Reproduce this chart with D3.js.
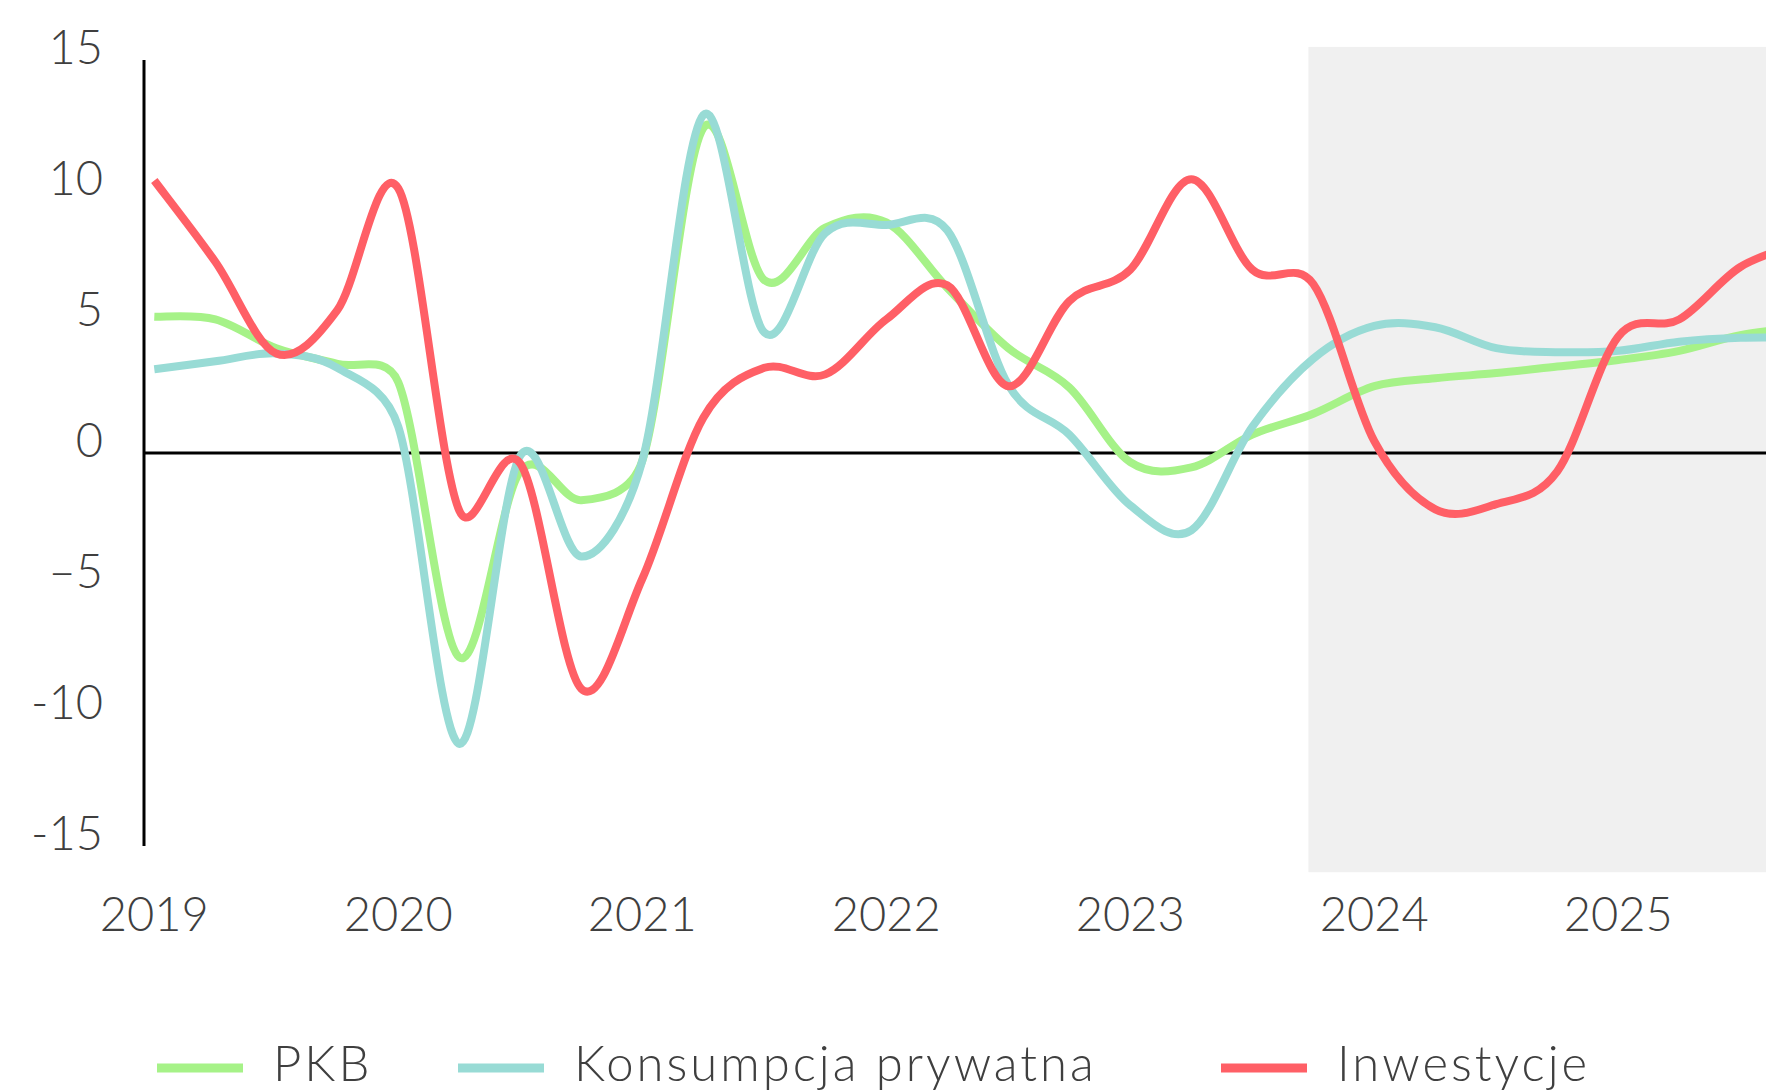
<!DOCTYPE html>
<html>
<head>
<meta charset="utf-8">
<script src="https://cdn.jsdelivr.net/npm/d3@7"></script>
<style>
    body { margin: 0; background: #fff; }
    svg { display: block; }
    text { font-family: 'Lato', 'Open Sans', sans-serif; font-weight: 300; fill: #3f3f3f; }
</style>
</head>
<body>
<div id="chart"></div>
<script>
// kwartaly 2019Q1 - 2025Q4
const years = ['2019', '2020', '2021', '2022', '2023', '2024', '2025'];
const yTicks = [15, 10, 5, 0, -5, -10, -15];
const yTickLabels = ['15', '10', '5', '0', '\u20135', '-10', '-15'];

const pkb = [5.2, 5.1, 4.0, 3.4, 2.7, -7.8, -0.7, -1.8, -0.3, 12.4, 6.6, 8.6, 8.8, 6.3,
    4.0, 2.5, -0.35, -0.55, 0.7, 1.5, 2.55, 2.85, 3.05, 3.3, 3.55, 3.9, 4.5, 4.8];
const konsumpcja = [3.2, 3.5, 3.8, 3.25, 1.0, -11.1, -0.1, -3.95, -0.3, 12.9, 4.6, 8.4, 8.7, 8.5,
    2.6, 0.7, -2.0, -2.95, 1.0, 3.6, 4.85, 4.8, 4.0, 3.85, 3.9, 4.25, 4.4, 4.4];
const inwestycje = [10.4, 7.3, 3.8, 5.45, 10.1, -2.2, -0.4, -9.0, -4.8, 1.35, 3.25, 3.0, 5.1, 6.4,
    2.55, 5.8, 7.0, 10.45, 7.0, 6.45, 0.45, -2.15, -1.95, -0.7, 4.45, 5.1, 7.1, 8.0];

// prognoza od konca 2023 (indeks kwartalu)
const forecastStart = 18.92;

const seriesNames = ['PKB', 'Konsumpcja prywatna', 'Inwestycje'];
const seriesColors = ['#a6f288', '#98dbd5', '#ff5f66'];

window.addEventListener('load', () => buildChart());

// wygladzanie jak w Excelu: bezier 1/6, ramiona przyciete do polowy odcinka
function smoothPath(points) {
    const dist = (a, b) => Math.hypot(b[0] - a[0], b[1] - a[1]);
    const n = points.length;
    const path = d3.path();
    path.moveTo(points[0][0], points[0][1]);
    for (let i = 0; i < n - 1; i++) {
        const p0 = points[Math.max(i - 1, 0)];
        const p1 = points[i];
        const p2 = points[i + 1];
        const p3 = points[Math.min(i + 2, n - 1)];
        const d12 = dist(p1, p2);
        const d02 = dist(p0, p2);
        const d13 = dist(p1, p3);
        let f1 = 1 / 6;
        let f2 = 1 / 6;
        if (d02 / 6 >= d12 / 2 && d02 > 0) f1 = d12 / (2 * d02);
        if (d13 / 6 >= d12 / 2 && d13 > 0) f2 = d12 / (2 * d13);
        path.bezierCurveTo(
            p1[0] + f1 * (p2[0] - p0[0]), p1[1] + f1 * (p2[1] - p0[1]),
            p2[0] - f2 * (p3[0] - p1[0]), p2[1] - f2 * (p3[1] - p1[1]),
            p2[0], p2[1]
        );
    }
    return path.toString();
}

function buildChart() {
    const svgWidth = 1766;
    const svgHeight = 1090;
    const axisX = 144;

    const svg = d3.select('#chart')
    .append('svg')
    .attr('width', svgWidth)
    .attr('height', svgHeight);

    const x = d3.scaleLinear()
    .domain([0, pkb.length - 1])
    .range([154.3, 154.3 + 61 * (pkb.length - 1)]);

    const y = d3.scaleLinear()
    .domain([-15, 15])
    .range([846, 60]);

    // szare tlo prognozy
    svg.append('rect')
    .attr('x', x(forecastStart))
    .attr('y', y(15.5))
    .attr('width', svgWidth - x(forecastStart))
    .attr('height', y(-16) - y(15.5))
    .attr('fill', '#f0f0f0');

    // os Y
    svg.append('line')
    .attr('x1', axisX).attr('x2', axisX)
    .attr('y1', y(15)).attr('y2', y(-15))
    .attr('stroke', '#000')
    .attr('stroke-width', 3);

    svg.append('line')
    .attr('x1', axisX).attr('x2', svgWidth)
    .attr('y1', y(0)).attr('y2', y(0))
    .attr('stroke', '#000')
    .attr('stroke-width', 3);

    svg.selectAll('.y-label')
    .data(yTicks)
    .enter()
    .append('text')
    .attr('class', 'y-label')
    .attr('x', 103)
    .attr('y', d => y(d) + 4)
    .attr('text-anchor', 'end')
    .style('font-size', '47px')
    .text((d, i) => yTickLabels[i]);

    svg.selectAll('.x-label')
    .data(years)
    .enter()
    .append('text')
    .attr('class', 'x-label')
    .attr('x', (d, i) => x(i * 4))
    .attr('y', 931)
    .attr('text-anchor', 'middle')
    .style('font-size', '47px')
    .text(d => d);

    [pkb, konsumpcja, inwestycje].forEach((series, i) => {
        const points = series.map((v, j) => [x(j), y(v)]);
        svg.append('path')
        .attr('d', smoothPath(points))
        .attr('fill', 'none')
        .attr('stroke', seriesColors[i])
        .attr('stroke-width', 8)
        .attr('stroke-linejoin', 'round');
    });

    // legenda
    const legendX = [157, 458, 1221];
    const legend = svg.selectAll('.legend')
    .data(seriesNames)
    .enter()
    .append('g')
    .attr('class', 'legend')
    .attr('transform', (d, i) => `translate(${legendX[i]}, 1068)`);

    legend.append('rect')
    .attr('x', 0)
    .attr('y', -4.5)
    .attr('width', 86)
    .attr('height', 9)
    .attr('fill', (d, i) => seriesColors[i]);

    legend.append('text')
    .attr('x', 116)
    .attr('y', 13)
    .style('font-size', '49px')
    .style('letter-spacing', '3px')
    .text(d => d);
}
</script>
</body>
</html>
